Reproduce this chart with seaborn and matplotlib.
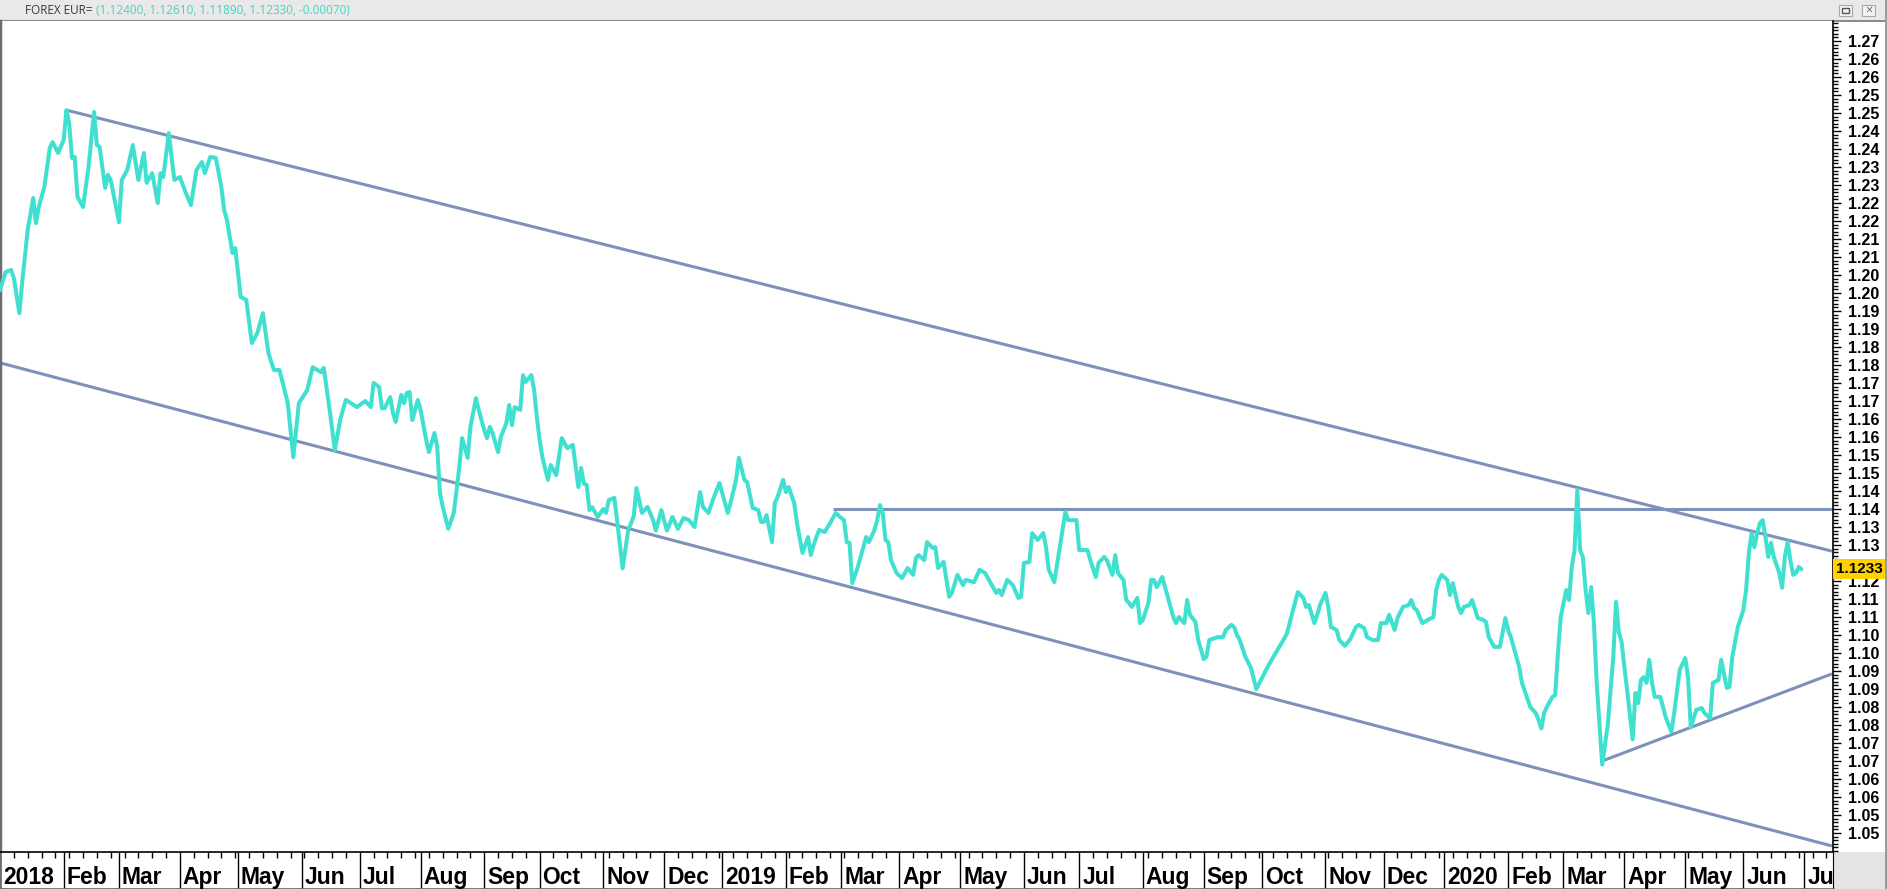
import numpy as np
import pandas as pd
import matplotlib
matplotlib.use("Agg")
import matplotlib.pyplot as plt
import matplotlib.transforms as mtransforms
from matplotlib.patches import Rectangle
from matplotlib.ticker import MultipleLocator, FixedLocator
import seaborn as sns

# EUR/USD daily close, x = trading session counted from 2018-01-01 (weekdays)
session = [
    0, 2, 4, 5, 7, 8, 10, 12, 13, 14,
    16, 18, 19, 21, 23, 24, 25, 26, 27, 28,
    30, 32, 34, 35, 36, 38, 39, 40, 43, 44,
    46, 48, 50, 52, 53, 55, 57, 58, 59, 61,
    63, 65, 67, 69, 71, 73, 74, 76, 78, 80,
    81, 82, 84, 85, 87, 89, 91, 93, 95, 97,
    99, 101, 104, 106, 108, 111, 113, 116, 117, 119,
    121, 123, 125, 129, 132, 134, 135, 137, 138, 139,
    141, 142, 143, 145, 146, 147, 148, 149, 151, 152,
    154, 155, 157, 158, 159, 160, 162, 164, 166, 167,
    169, 170, 172, 173, 175, 176, 177, 178, 180, 181,
    183, 184, 185, 186, 188, 189, 190, 192, 193, 194,
    195, 196, 198, 199, 201, 203, 205, 207, 209, 210,
    211, 212, 213, 214, 216, 218, 219, 220, 222, 223,
    225, 227, 229, 230, 232, 234, 236, 237, 239, 240,
    241, 243, 245, 247, 249, 251, 253, 254, 256, 258,
    260, 261, 263, 264, 266, 267, 269, 270, 272, 274,
    275, 276, 277, 279, 280, 281, 283, 284, 285, 287,
    288, 290, 292, 293, 294, 296, 298, 300, 302, 304,
    305, 306, 307, 308, 310, 311, 313, 314, 316, 317,
    318, 319, 320, 321, 322, 324, 326, 328, 330, 331,
    332, 334, 335, 337, 338, 339, 341, 343, 344, 346,
    348, 349, 352, 354, 356, 358, 360, 361, 362, 364,
    366, 368, 369, 370, 372, 373, 375, 377, 378, 379,
    381, 383, 385, 386, 389, 390, 393, 394, 396, 397,
    399, 400, 402, 403, 404, 406, 407, 408, 409, 411,
    412, 413, 415, 416, 417, 418, 420, 422, 424, 425,
    426, 428, 429, 430, 432, 433, 435, 436, 437, 440,
    442, 443, 445, 446, 447, 448, 450, 452, 454, 456,
    458, 461, 464, 465, 467, 469, 471, 472, 473, 475,
    476, 477, 479, 480, 481, 483, 484, 486, 488, 490,
    491, 493, 494, 496, 498, 499, 501, 502, 504, 505,
    507, 509, 510, 511, 512, 514, 516, 518, 519, 520,
    521, 523, 524, 525, 527, 528, 529, 531, 532, 534,
    536, 537, 538, 540, 542, 544, 545, 546, 548, 549,
    550, 553, 555, 556, 557, 558, 559, 561, 562, 563,
    564, 566, 567, 568, 569, 570, 571, 572, 573, 574,
    575, 576, 577, 579, 581, 583, 584, 585, 586, 587,
    588, 590, 591, 592, 593, 594, 595, 596, 597, 598,
    600, 602, 604, 605, 607, 609, 610, 611, 613, 615,
    616, 618, 619, 621, 622, 624, 625, 626, 628, 630,
    631, 632, 633, 634, 635, 636, 637, 638, 639, 640,
    641, 643, 644, 645, 646, 647, 648, 649, 650, 651,
]
close = [
    1.2008, 1.2058, 1.2064, 1.2042, 1.1944, 1.2028, 1.2175, 1.2264, 1.2194, 1.2239,
    1.2294, 1.2403, 1.2419, 1.2389, 1.2425, 1.2508, 1.2472, 1.2375, 1.2378, 1.2267,
    1.2239, 1.2350, 1.2503, 1.2411, 1.2406, 1.2292, 1.2328, 1.2314, 1.2197, 1.2314,
    1.2342, 1.2411, 1.2314, 1.2389, 1.2306, 1.2333, 1.2250, 1.2333, 1.2322, 1.2444,
    1.2314, 1.2322, 1.2281, 1.2244, 1.2342, 1.2364, 1.2333, 1.2378, 1.2375, 1.2294,
    1.2231, 1.2203, 1.2111, 1.2125, 1.1989, 1.1981, 1.1861, 1.1889, 1.1944, 1.1833,
    1.1786, 1.1786, 1.1694, 1.1544, 1.1694, 1.1730, 1.1794, 1.1780, 1.1792, 1.1683,
    1.1564, 1.1650, 1.1703, 1.1683, 1.1700, 1.1683, 1.1750, 1.1739, 1.1680, 1.1680,
    1.1711, 1.1667, 1.1642, 1.1717, 1.1694, 1.1722, 1.1725, 1.1647, 1.1703, 1.1675,
    1.1592, 1.1558, 1.1611, 1.1572, 1.1444, 1.1406, 1.1345, 1.1390, 1.1517, 1.1597,
    1.1542, 1.1628, 1.1708, 1.1675, 1.1619, 1.1597, 1.1628, 1.1611, 1.1558, 1.1600,
    1.1639, 1.1689, 1.1633, 1.1683, 1.1675, 1.1772, 1.1753, 1.1772, 1.1731, 1.1656,
    1.1592, 1.1544, 1.1481, 1.1522, 1.1494, 1.1597, 1.1569, 1.1578, 1.1461, 1.1514,
    1.1470, 1.1467, 1.1397, 1.1405, 1.1378, 1.1400, 1.1389, 1.1425, 1.1431, 1.1369,
    1.1235, 1.1340, 1.1380, 1.1458, 1.1389, 1.1406, 1.1369, 1.1340, 1.1397, 1.1369,
    1.1340, 1.1378, 1.1345, 1.1375, 1.1369, 1.1350, 1.1447, 1.1406, 1.1389, 1.1433,
    1.1472, 1.1444, 1.1389, 1.1417, 1.1481, 1.1542, 1.1481, 1.1475, 1.1403, 1.1397,
    1.1364, 1.1364, 1.1383, 1.1308, 1.1417, 1.1433, 1.1481, 1.1447, 1.1461, 1.1417,
    1.1361, 1.1278, 1.1322, 1.1272, 1.1300, 1.1342, 1.1336, 1.1361, 1.1389, 1.1375,
    1.1369, 1.1308, 1.1306, 1.1194, 1.1239, 1.1267, 1.1322, 1.1308, 1.1342, 1.1369,
    1.1411, 1.1389, 1.1314, 1.1308, 1.1258, 1.1222, 1.1208, 1.1236, 1.1217, 1.1264,
    1.1272, 1.1258, 1.1308, 1.1292, 1.1294, 1.1236, 1.1253, 1.1156, 1.1167, 1.1217,
    1.1189, 1.1203, 1.1197, 1.1231, 1.1222, 1.1194, 1.1167, 1.1175, 1.1161, 1.1203,
    1.1189, 1.1153, 1.1156, 1.1250, 1.1253, 1.1333, 1.1314, 1.1333, 1.1294, 1.1231,
    1.1197, 1.1294, 1.1392, 1.1369, 1.1369, 1.1286, 1.1286, 1.1258, 1.1211, 1.1250,
    1.1267, 1.1258, 1.1217, 1.1272, 1.1222, 1.1203, 1.1147, 1.1139, 1.1128, 1.1153,
    1.1083, 1.1092, 1.1139, 1.1203, 1.1203, 1.1183, 1.1211, 1.1156, 1.1100, 1.1083,
    1.1100, 1.1083, 1.1147, 1.1106, 1.1086, 1.1036, 1.0983, 1.0990, 1.1036, 1.1044,
    1.1044, 1.1064, 1.1078, 1.1072, 1.1050, 1.1036, 1.0990, 1.0960, 1.0900, 1.0930,
    1.0960, 1.1000, 1.1039, 1.1053, 1.1111, 1.1169, 1.1153, 1.1128, 1.1133, 1.1083,
    1.1106, 1.1133, 1.1167, 1.1128, 1.1072, 1.1064, 1.1036, 1.1020, 1.1039, 1.1072,
    1.1078, 1.1069, 1.1044, 1.1036, 1.1036, 1.1083, 1.1083, 1.1106, 1.1064, 1.1097,
    1.1128, 1.1133, 1.1147, 1.1125, 1.1119, 1.1083, 1.1092, 1.1100, 1.1175, 1.1203,
    1.1217, 1.1203, 1.1161, 1.1194, 1.1128, 1.1111, 1.1128, 1.1133, 1.1147, 1.1097,
    1.1092, 1.1086, 1.1044, 1.1017, 1.1017, 1.1097, 1.1064, 1.1044, 1.0989, 1.0961,
    1.0917, 1.0850, 1.0833, 1.0814, 1.0790, 1.0833, 1.0850, 1.0878, 1.0883, 1.1000,
    1.1100, 1.1175, 1.1147, 1.1239, 1.1286, 1.1453, 1.1286, 1.1267, 1.1175, 1.1111,
    1.1183, 1.1083, 1.0917, 1.0690, 1.0800, 1.0989, 1.1142, 1.1058, 1.1031, 1.0961,
    1.0897, 1.0760, 1.0889, 1.0861, 1.0925, 1.0933, 1.0917, 1.0981, 1.0917, 1.0878,
    1.0878, 1.0820, 1.0781, 1.0833, 1.0953, 1.0986, 1.0933, 1.0794, 1.0842, 1.0847,
    1.0833, 1.0819, 1.0917, 1.0925, 1.0981, 1.0903, 1.0906, 1.0989, 1.1072, 1.1119,
    1.1175, 1.1278, 1.1333, 1.1294, 1.1333, 1.1361, 1.1369, 1.1322, 1.1267, 1.1306,
    1.1267, 1.1222, 1.1181, 1.1267, 1.1308, 1.1258, 1.1217, 1.1222, 1.1239, 1.1233,
]

# trend lines as (session, price) end points
upper_channel_x = [24, 662]
upper_channel_y = [1.2508, 1.1283]
lower_channel_x = [0, 662]
lower_channel_y = [1.1806, 1.0464]
resistance_x = [301, 662]
resistance_y = [1.1400, 1.1400]
triangle_x = [579, 662]
triangle_y = [1.0700, 1.0942]

month_labels = ["2018", "Feb", "Mar", "Apr", "May", "Jun", "Jul", "Aug", "Sep", "Oct", "Nov", "Dec",
                "2019", "Feb", "Mar", "Apr", "May", "Jun", "Jul", "Aug", "Sep", "Oct", "Nov", "Dec",
                "2020", "Feb", "Mar", "Apr", "May", "Jun", "Jul"]
last_price = 1.1233
quote = [1.12400, 1.12610, 1.11890, 1.12330, -0.00070]

price_color = "#40E0D0"
line_color = "#7D91B9"

sns.set_style("white")
plt.rcParams["font.family"] = ["Liberation Sans", "DejaVu Sans"]

W, H = 1887, 889
fig = plt.figure(figsize=(W / 100, H / 100), dpi=100)
fig.patch.set_facecolor("white")

ax = fig.add_axes([0, 37 / H, 1833 / W, 831 / H])
band = fig.add_axes([0, 0, 1833 / W, 37 / H], sharex=ax)

calendar = pd.bdate_range("2018-01-01", periods=663)
n_sessions = 662.4

# trend lines
for xs, ys in [(upper_channel_x, upper_channel_y), (lower_channel_x, lower_channel_y),
               (resistance_x, resistance_y), (triangle_x, triangle_y)]:
    ax.plot(xs, ys, color=line_color, lw=2.2, solid_capstyle="butt", zorder=2)

df = pd.DataFrame({"session": session, "close": close})
sns.lineplot(data=df, x="session", y="close", ax=ax, color=price_color, lw=2.9,
             estimator=None, sort=False, zorder=3)

ax.set_xlim(0, n_sessions)
ax.set_ylim(1.04472, 1.27556)
ax.set_xlabel("")
ax.set_ylabel("")

# right price scale; the label right under the last-price tag is covered by it
ticks = np.round(np.arange(1.05, 1.2701, 0.005), 3)
tick_text = []
for t in ticks:
    if abs(t - last_price) < 0.0025:
        tick_text.append("")
    else:
        tick_text.append(f"{np.floor(t * 100 + 1e-6) / 100:.2f}")
ax.yaxis.tick_right()
ax.yaxis.set_major_locator(FixedLocator(ticks))
ax.set_yticklabels(tick_text, fontweight="bold", fontsize=11.5)
ax.yaxis.set_minor_locator(MultipleLocator(0.001))
ax.tick_params(axis="y", which="major", direction="out", length=6, width=1, pad=5,
               right=True, left=False, colors="black")
ax.tick_params(axis="y", which="minor", direction="out", length=3.6, width=1,
               right=True, left=False, colors="black")
ax.tick_params(axis="x", which="both", bottom=False, top=False, labelbottom=False)
for side in ["top", "bottom"]:
    ax.spines[side].set_visible(False)
ax.spines["right"].set_color("black")
ax.spines["right"].set_linewidth(1.2)
ax.spines["left"].set_color("#6E6E6E")
ax.spines["left"].set_linewidth(2.5)

# last price tag
tag_tf = mtransforms.blended_transform_factory(ax.transAxes, ax.transData)
ax.text(1.0015, last_price, f"{last_price:.4f}", transform=tag_tf, ha="left", va="center",
        fontsize=11, fontweight="bold", color="black", clip_on=False, zorder=5,
        bbox=dict(boxstyle="square,pad=0.18", fc="#FFD100", ec="none"))

# date band
months = calendar.to_period("M")
month_start = [i for i in range(len(calendar)) if i == 0 or months[i] != months[i - 1]]
mondays = [i for i in range(len(calendar)) if calendar[i].weekday() == 0 and i not in month_start]
band.set_ylim(0, 1)
band.vlines(month_start[1:], 0, 1, color="black", lw=1)
band.set_xticks([])
band.set_xticks(mondays, minor=True)
band.xaxis.tick_top()
band.tick_params(axis="x", which="minor", direction="in", length=4.5, width=1, top=True,
                 bottom=False, labeltop=False, labelbottom=False, colors="black")
band.set_yticks([])
for side in ["left", "bottom"]:
    band.spines[side].set_color("#6E6E6E")
    band.spines[side].set_linewidth(2)
band.spines["top"].set_color("black")
band.spines["top"].set_linewidth(1.2)
band.spines["right"].set_color("black")
label_tf = mtransforms.offset_copy(band.transData, fig=fig, x=3, y=0, units="dots")
for pos, label in zip(month_start, month_labels):
    band.text(pos, 0.14, label, transform=label_tf, ha="left", va="baseline",
              fontsize=16.5, fontweight="bold", color="black", clip_on=True)

# window chrome: header bar, corner box
fig.add_artist(Rectangle((0, (H - 20) / H), 1, 20 / H, transform=fig.transFigure,
                         fc="#E9E9E9", ec="none", zorder=0))
fig.add_artist(Rectangle((0, (H - 22) / H), 1, 2 / H, transform=fig.transFigure,
                         fc="#8A8A8A", ec="none", zorder=0))
fig.add_artist(Rectangle((1833 / W, 0), 54 / W, 37 / H, transform=fig.transFigure,
                         fc="#E4E4E4", ec="none", zorder=0))
fig.add_artist(Rectangle(((W - 2) / W, 0), 2 / W, 1, transform=fig.transFigure,
                         fc="#9A9A9A", ec="none", zorder=0))
fig.add_artist(Rectangle((1839 / W, (H - 16) / H), 13 / W, 11 / H, transform=fig.transFigure,
                         fc="#F4F4F4", ec="#A8A8A8", lw=0.8))
fig.add_artist(Rectangle((1842 / W, (H - 13) / H), 7 / W, 5 / H, transform=fig.transFigure,
                         fc="none", ec="#555555", lw=1))
fig.add_artist(Rectangle((1862 / W, (H - 16) / H), 13 / W, 11 / H, transform=fig.transFigure,
                         fc="#F4F4F4", ec="#A8A8A8", lw=0.8))
fig.text(1868.5 / W, (H - 10.5) / H, "×", ha="center", va="center", fontsize=9,
         color="#666666", family=["Open Sans", "DejaVu Sans"])

title = fig.text(25 / W, (H - 10) / H, "FOREX EUR= ", ha="left", va="center", fontsize=8.5,
                 color="#3A3A3A", family=["Open Sans", "DejaVu Sans"])
fig.canvas.draw()
bb = title.get_window_extent()
quote_text = "(" + ", ".join(f"{v:.5f}" for v in quote) + ")"
fig.text(bb.x1 / W, (H - 10) / H, quote_text, ha="left", va="center", fontsize=8.5,
         color="#3FD6C6", family=["Open Sans", "DejaVu Sans"])

fig.savefig("out.png", dpi=100)
